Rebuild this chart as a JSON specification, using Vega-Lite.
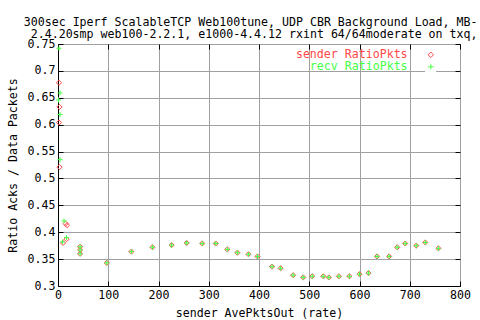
{
  "$schema": "https://vega.github.io/schema/vega-lite/v6.json",
  "width": 402,
  "height": 242,
  "autosize": "none",
  "padding": {"left": 58, "top": 44, "right": 20, "bottom": 34},
  "background": "white",
  "title": {
    "text": ["300sec Iperf ScalableTCP Web100tune, UDP CBR Background Load, MB-", "2.4.20smp web100-2.2.1, e1000-4.4.12 rxint 64/64moderate on txq,"],
    "anchor": "end",
    "align": "right",
    "dx": 7,
    "offset": -3,
    "font": "DejaVu Sans Mono",
    "fontSize": 11.6,
    "fontWeight": "normal",
    "lineHeight": 12,
    "color": "black"
  },
  "config": {
    "font": "DejaVu Sans Mono",
    "view": {"stroke": "black", "strokeWidth": 1},
    "axis": {
      "labelFont": "DejaVu Sans Mono",
      "labelFontSize": 11.6,
      "labelColor": "black",
      "titleFont": "DejaVu Sans Mono",
      "titleFontSize": 11.6,
      "titleFontWeight": "normal",
      "titleColor": "black",
      "domainColor": "black",
      "tickColor": "black",
      "gridColor": "#a0a0a0",
      "gridOpacity": 1,
      "tickSize": -5
    }
  },
  "data": {
    "values": [
      {"series": "sender RatioPkts", "rate": 2, "ratio": 0.678},
      {"series": "sender RatioPkts", "rate": 3, "ratio": 0.633},
      {"series": "sender RatioPkts", "rate": 2, "ratio": 0.604},
      {"series": "sender RatioPkts", "rate": 3, "ratio": 0.521},
      {"series": "sender RatioPkts", "rate": 15, "ratio": 0.416},
      {"series": "sender RatioPkts", "rate": 18, "ratio": 0.413},
      {"series": "sender RatioPkts", "rate": 10, "ratio": 0.38},
      {"series": "sender RatioPkts", "rate": 17, "ratio": 0.387},
      {"series": "sender RatioPkts", "rate": 44, "ratio": 0.373},
      {"series": "sender RatioPkts", "rate": 44, "ratio": 0.367},
      {"series": "sender RatioPkts", "rate": 44, "ratio": 0.36},
      {"series": "sender RatioPkts", "rate": 97, "ratio": 0.343},
      {"series": "sender RatioPkts", "rate": 146, "ratio": 0.364},
      {"series": "sender RatioPkts", "rate": 188, "ratio": 0.372},
      {"series": "sender RatioPkts", "rate": 226, "ratio": 0.376},
      {"series": "sender RatioPkts", "rate": 256, "ratio": 0.38},
      {"series": "sender RatioPkts", "rate": 287, "ratio": 0.379},
      {"series": "sender RatioPkts", "rate": 314, "ratio": 0.379},
      {"series": "sender RatioPkts", "rate": 337, "ratio": 0.368},
      {"series": "sender RatioPkts", "rate": 357, "ratio": 0.362},
      {"series": "sender RatioPkts", "rate": 379, "ratio": 0.359},
      {"series": "sender RatioPkts", "rate": 397, "ratio": 0.355},
      {"series": "sender RatioPkts", "rate": 426, "ratio": 0.336},
      {"series": "sender RatioPkts", "rate": 443, "ratio": 0.333},
      {"series": "sender RatioPkts", "rate": 468, "ratio": 0.32},
      {"series": "sender RatioPkts", "rate": 488, "ratio": 0.316},
      {"series": "sender RatioPkts", "rate": 506, "ratio": 0.318},
      {"series": "sender RatioPkts", "rate": 528, "ratio": 0.318},
      {"series": "sender RatioPkts", "rate": 539, "ratio": 0.316},
      {"series": "sender RatioPkts", "rate": 559, "ratio": 0.318},
      {"series": "sender RatioPkts", "rate": 580, "ratio": 0.318},
      {"series": "sender RatioPkts", "rate": 600, "ratio": 0.322},
      {"series": "sender RatioPkts", "rate": 618, "ratio": 0.324},
      {"series": "sender RatioPkts", "rate": 635, "ratio": 0.355},
      {"series": "sender RatioPkts", "rate": 659, "ratio": 0.355},
      {"series": "sender RatioPkts", "rate": 675, "ratio": 0.372},
      {"series": "sender RatioPkts", "rate": 691, "ratio": 0.379},
      {"series": "sender RatioPkts", "rate": 713, "ratio": 0.375},
      {"series": "sender RatioPkts", "rate": 731, "ratio": 0.381},
      {"series": "sender RatioPkts", "rate": 757, "ratio": 0.37},
      {"series": "recv RatioPkts", "rate": 2, "ratio": 0.742},
      {"series": "recv RatioPkts", "rate": 4, "ratio": 0.659},
      {"series": "recv RatioPkts", "rate": 1, "ratio": 0.646},
      {"series": "recv RatioPkts", "rate": 4, "ratio": 0.619},
      {"series": "recv RatioPkts", "rate": 4, "ratio": 0.535},
      {"series": "recv RatioPkts", "rate": 12, "ratio": 0.421},
      {"series": "recv RatioPkts", "rate": 17, "ratio": 0.39},
      {"series": "recv RatioPkts", "rate": 9, "ratio": 0.382},
      {"series": "recv RatioPkts", "rate": 44, "ratio": 0.373},
      {"series": "recv RatioPkts", "rate": 44, "ratio": 0.367},
      {"series": "recv RatioPkts", "rate": 44, "ratio": 0.36},
      {"series": "recv RatioPkts", "rate": 97, "ratio": 0.343},
      {"series": "recv RatioPkts", "rate": 146, "ratio": 0.364},
      {"series": "recv RatioPkts", "rate": 188, "ratio": 0.372},
      {"series": "recv RatioPkts", "rate": 226, "ratio": 0.376},
      {"series": "recv RatioPkts", "rate": 256, "ratio": 0.38},
      {"series": "recv RatioPkts", "rate": 287, "ratio": 0.379},
      {"series": "recv RatioPkts", "rate": 314, "ratio": 0.379},
      {"series": "recv RatioPkts", "rate": 337, "ratio": 0.368},
      {"series": "recv RatioPkts", "rate": 357, "ratio": 0.362},
      {"series": "recv RatioPkts", "rate": 379, "ratio": 0.359},
      {"series": "recv RatioPkts", "rate": 397, "ratio": 0.355},
      {"series": "recv RatioPkts", "rate": 426, "ratio": 0.336},
      {"series": "recv RatioPkts", "rate": 443, "ratio": 0.333},
      {"series": "recv RatioPkts", "rate": 468, "ratio": 0.32},
      {"series": "recv RatioPkts", "rate": 488, "ratio": 0.316},
      {"series": "recv RatioPkts", "rate": 506, "ratio": 0.318},
      {"series": "recv RatioPkts", "rate": 528, "ratio": 0.318},
      {"series": "recv RatioPkts", "rate": 539, "ratio": 0.316},
      {"series": "recv RatioPkts", "rate": 559, "ratio": 0.318},
      {"series": "recv RatioPkts", "rate": 580, "ratio": 0.318},
      {"series": "recv RatioPkts", "rate": 600, "ratio": 0.322},
      {"series": "recv RatioPkts", "rate": 618, "ratio": 0.324},
      {"series": "recv RatioPkts", "rate": 635, "ratio": 0.355},
      {"series": "recv RatioPkts", "rate": 659, "ratio": 0.355},
      {"series": "recv RatioPkts", "rate": 675, "ratio": 0.372},
      {"series": "recv RatioPkts", "rate": 691, "ratio": 0.379},
      {"series": "recv RatioPkts", "rate": 713, "ratio": 0.375},
      {"series": "recv RatioPkts", "rate": 731, "ratio": 0.381},
      {"series": "recv RatioPkts", "rate": 757, "ratio": 0.37}
    ]
  },
  "layer": [
    {
      "mark": {"type": "point", "filled": false, "strokeWidth": 1, "opacity": 1, "size": 26},
      "encoding": {
        "x": {
          "field": "rate", "type": "quantitative",
          "scale": {"domain": [0, 800], "nice": false, "zero": false},
          "axis": {"title": "sender AvePktsOut (rate)", "values": [0, 100, 200, 300, 400, 500, 600, 700, 800], "grid": true, "labelPadding": 8, "titlePadding": 7, "labelFlush": false}
        },
        "y": {
          "field": "ratio", "type": "quantitative",
          "scale": {"domain": [0.3, 0.75], "nice": false, "zero": false},
          "axis": {"title": "Ratio Acks / Data Packets", "values": [0.3, 0.35, 0.4, 0.45, 0.5, 0.55, 0.6, 0.65, 0.7, 0.75], "format": "~g", "grid": true, "labelPadding": 8, "titlePadding": 9, "labelFlush": false}
        },
        "color": {
          "field": "series", "type": "nominal",
          "scale": {"domain": ["sender RatioPkts", "recv RatioPkts"], "range": ["#ff4848", "#48ff48"]},
          "legend": {
            "title": null, "orient": "none", "legendX": 367, "legendY": 5,
            "labelAlign": "right", "labelOffset": -29, "labelFontSize": 11.6,
            "labelFont": "DejaVu Sans Mono", "labelColor": {"expr": "datum.value == 'sender RatioPkts' ? '#ff4848' : '#48ff48'"},
            "rowPadding": -1, "padding": 0, "symbolSize": 30, "symbolStrokeWidth": 1, "fillColor": "white"
          }
        },
        "shape": {
          "field": "series", "type": "nominal",
          "scale": {"domain": ["sender RatioPkts", "recv RatioPkts"], "range": ["diamond", "M-1,0H1M0,-1V1"]},
          "legend": null
        }
      }
    },
    {
      "mark": {"type": "point", "opacity": 0},
      "encoding": {
        "x": {"field": "rate", "type": "quantitative", "scale": {"domain": [0, 800], "nice": false, "zero": false},
          "axis": {"orient": "top", "title": null, "labels": false, "grid": false, "domain": false, "values": [0, 100, 200, 300, 400, 500, 600, 700, 800]}},
        "y": {"field": "ratio", "type": "quantitative", "scale": {"domain": [0.3, 0.75], "nice": false, "zero": false},
          "axis": {"orient": "right", "title": null, "labels": false, "grid": false, "domain": false, "values": [0.3, 0.35, 0.4, 0.45, 0.5, 0.55, 0.6, 0.65, 0.7, 0.75]}}
      }
    }
  ],
  "resolve": {"axis": {"x": "independent", "y": "independent"}}
}
